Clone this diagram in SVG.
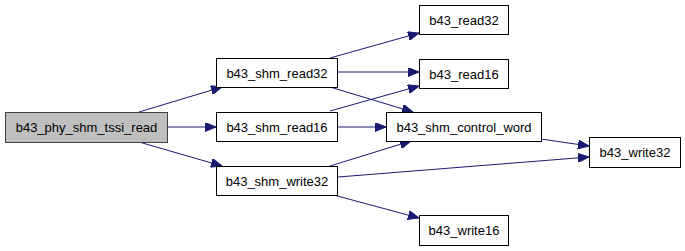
<svg xmlns="http://www.w3.org/2000/svg" width="685" height="251" viewBox="0 0 685 251">
  <style>
    .node rect { fill: #ffffff; stroke: #000000; stroke-width: 1; }
    .node.root rect { fill: #bfbfbf; stroke: #404040; }
    .node text { font-family: "Liberation Sans", Arial, sans-serif; font-size: 13px; fill: #000000; text-anchor: middle; }
    .edges line { stroke: #191970; stroke-width: 1; fill: none; marker-end: url(#arrow); }
  </style>
  <defs>
    <marker id="arrow" markerUnits="userSpaceOnUse" markerWidth="12" markerHeight="9" refX="11" refY="4.5" orient="auto">
      <path d="M0,0 L11,4.5 L0,9 z" fill="#191970" stroke="#191970"/>
    </marker>
  </defs>

  <g class="edges" id="edges">
    <line x1="139" y1="112" x2="222" y2="87"/>
    <line x1="167" y1="127" x2="216" y2="127"/>
    <line x1="139" y1="142" x2="222" y2="166"/>
    <line x1="330" y1="58" x2="419" y2="33"/>
    <line x1="337" y1="72" x2="419" y2="72"/>
    <line x1="330" y1="87" x2="413" y2="112"/>
    <line x1="330" y1="111" x2="419" y2="86"/>
    <line x1="337" y1="127" x2="386" y2="127"/>
    <line x1="330" y1="166" x2="411" y2="141"/>
    <line x1="338" y1="177" x2="589" y2="157"/>
    <line x1="330" y1="194" x2="419" y2="218"/>
    <line x1="541" y1="139" x2="589" y2="146"/>
  </g>

  <g class="node root" id="b43_phy_shm_tssi_read">
    <rect x="5.5" y="112.5" width="162" height="30"/>
    <text x="86.5" y="132">b43_phy_shm_tssi_read</text>
  </g>
  <g class="node" id="b43_shm_read32">
    <rect x="216.5" y="58.5" width="121" height="29"/>
    <text x="277" y="77.5">b43_shm_read32</text>
  </g>
  <g class="node" id="b43_shm_read16">
    <rect x="216.5" y="112.5" width="121" height="29"/>
    <text x="277" y="131.5">b43_shm_read16</text>
  </g>
  <g class="node" id="b43_shm_write32">
    <rect x="216.5" y="166.5" width="121" height="29"/>
    <text x="277" y="185.5">b43_shm_write32</text>
  </g>
  <g class="node" id="b43_read32">
    <rect x="419.5" y="5.5" width="89" height="29"/>
    <text x="464" y="24.5">b43_read32</text>
  </g>
  <g class="node" id="b43_read16">
    <rect x="419.5" y="59.5" width="89" height="29"/>
    <text x="464" y="78.5">b43_read16</text>
  </g>
  <g class="node" id="b43_shm_control_word">
    <rect x="386.5" y="112.5" width="155" height="29"/>
    <text x="464" y="131.5">b43_shm_control_word</text>
  </g>
  <g class="node" id="b43_write32">
    <rect x="589.5" y="137.5" width="91" height="30"/>
    <text x="635" y="157">b43_write32</text>
  </g>
  <g class="node" id="b43_write16">
    <rect x="419.5" y="215.5" width="89" height="30"/>
    <text x="464" y="235">b43_write16</text>
  </g>
</svg>
